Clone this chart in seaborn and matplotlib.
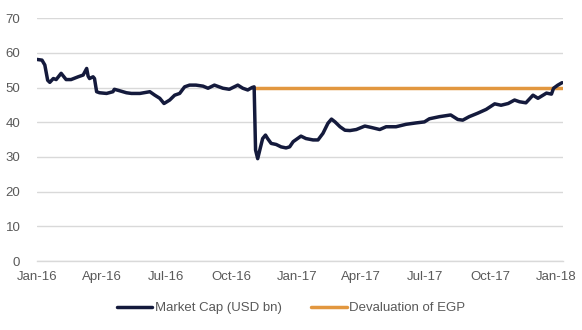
import matplotlib
matplotlib.use("Agg")
import matplotlib.pyplot as plt
import matplotlib.dates as mdates
import pandas as pd
import seaborn as sns

# Market capitalisation, USD bn
cap_dates = [
    "2016-01-01", "2016-01-08", "2016-01-12", "2016-01-16", "2016-01-19", "2016-01-24",
    "2016-01-28", "2016-02-04", "2016-02-11", "2016-02-18", "2016-02-28", "2016-03-06",
    "2016-03-11", "2016-03-13", "2016-03-15", "2016-03-20", "2016-03-22", "2016-03-25",
    "2016-03-29", "2016-04-08", "2016-04-17", "2016-04-19", "2016-04-26", "2016-05-06",
    "2016-05-13", "2016-05-25", "2016-06-08", "2016-06-15", "2016-06-22", "2016-06-28",
    "2016-07-06", "2016-07-13", "2016-07-20", "2016-07-27", "2016-08-03", "2016-08-12",
    "2016-08-22", "2016-08-29", "2016-09-07", "2016-09-19", "2016-09-28", "2016-10-10",
    "2016-10-17", "2016-10-24", "2016-10-30", "2016-11-02", "2016-11-04", "2016-11-07",
    "2016-11-10", "2016-11-14", "2016-11-18", "2016-11-21", "2016-11-26", "2016-12-03",
    "2016-12-10", "2016-12-17", "2016-12-22", "2016-12-27", "2017-01-07", "2017-01-14",
    "2017-01-24", "2017-01-31", "2017-02-07", "2017-02-14", "2017-02-19", "2017-02-24",
    "2017-03-03", "2017-03-10", "2017-03-17", "2017-03-26", "2017-04-07", "2017-04-16",
    "2017-04-28", "2017-05-07", "2017-05-21", "2017-06-04", "2017-06-18", "2017-06-30",
    "2017-07-07", "2017-07-21", "2017-08-06", "2017-08-16", "2017-08-23", "2017-09-01",
    "2017-09-13", "2017-09-25", "2017-10-07", "2017-10-16", "2017-10-26", "2017-11-04",
    "2017-11-11", "2017-11-20", "2017-11-30", "2017-12-07", "2017-12-19", "2017-12-26",
    "2017-12-29", "2018-01-04", "2018-01-10",
]
cap_values = [
    58.1, 57.9, 56.5, 52.1, 51.5, 52.6,
    52.3, 54.1, 52.3, 52.3, 53.1, 53.6,
    55.5, 53.3, 52.6, 53.1, 52.6, 48.8,
    48.5, 48.3, 48.8, 49.5, 49.1, 48.5,
    48.3, 48.3, 48.8, 47.8, 46.9, 45.4,
    46.4, 47.8, 48.3, 50.2, 50.7, 50.7,
    50.4, 49.8, 50.7, 49.8, 49.5, 50.7,
    49.8, 49.3, 50.0, 50.2, 32.0, 29.5,
    32.0, 35.3, 36.3, 35.3, 33.9, 33.6,
    32.9, 32.6, 32.9, 34.4, 36.0, 35.3,
    34.9, 34.9, 36.8, 39.7, 40.9, 40.1,
    38.7, 37.7, 37.6, 37.9, 38.9, 38.5,
    37.9, 38.7, 38.7, 39.4, 39.8, 40.1,
    41.0, 41.6, 42.1, 40.8, 40.6, 41.6,
    42.6, 43.7, 45.3, 44.9, 45.4, 46.4,
    45.9, 45.6, 47.8, 46.9, 48.4, 48.1,
    49.8, 50.7, 51.4,
]

# Level at the EGP devaluation (3 Nov 2016)
dev_dates = ["2016-11-03", "2018-01-10"]
dev_values = [50.0, 50.0]

x_ticks = ["2016-01-01", "2016-04-01", "2016-07-01", "2016-10-01", "2017-01-01",
           "2017-04-01", "2017-07-01", "2017-10-01", "2018-01-01"]
y_ticks = [0, 10, 20, 30, 40, 50, 60, 70]

cap_df = pd.DataFrame({"date": pd.to_datetime(cap_dates), "value": cap_values})
dev_df = pd.DataFrame({"date": pd.to_datetime(dev_dates), "value": dev_values})

sns.set_theme(style="white")
plt.rcParams["font.family"] = ["Liberation Sans", "DejaVu Sans"]

NAVY = "#141a3c"
ORANGE = "#e2973f"
GRID = "#d9d9d9"
TEXT = "#595959"

fig = plt.figure(figsize=(5.82, 3.30), dpi=100)
ax = fig.add_axes([0.0636, 0.209, 0.9034, 0.736])

sns.lineplot(data=cap_df, x="date", y="value", ax=ax, color=NAVY, linewidth=2.5,
             label="Market Cap (USD bn)", zorder=3)
sns.lineplot(data=dev_df, x="date", y="value", ax=ax, color=ORANGE, linewidth=2.5,
             label="Devaluation of EGP", zorder=2)

ax.set_xlim(pd.Timestamp("2016-01-01"), pd.Timestamp("2018-01-11"))
ax.set_ylim(0, 70)
ax.set_yticks(y_ticks)
ax.set_xticks(pd.to_datetime(x_ticks))
ax.xaxis.set_major_formatter(mdates.DateFormatter("%b-%y"))
ax.set_xlabel("")
ax.set_ylabel("")

ax.grid(axis="y", color=GRID, linewidth=1.0)
ax.grid(axis="x", visible=False)
for side in ["top", "right", "left"]:
    ax.spines[side].set_visible(False)
ax.spines["bottom"].set_color(GRID)
ax.spines["bottom"].set_linewidth(1.0)

ax.tick_params(axis="x", colors=GRID, labelcolor=TEXT, labelsize=9.5,
               direction="inout", length=6, width=1, pad=4)
ax.tick_params(axis="y", labelcolor=TEXT, labelsize=9.5, length=0, pad=12)

ax.get_legend().remove()
handles, labels = ax.get_legend_handles_labels()
fig.legend(handles, labels, loc="center", bbox_to_anchor=(0.5, 0.066), ncol=2,
           frameon=False, fontsize=9.5, handlelength=2.7, handletextpad=0.2,
           columnspacing=2.2, labelcolor=TEXT)

fig.savefig("out.png", dpi=100)
